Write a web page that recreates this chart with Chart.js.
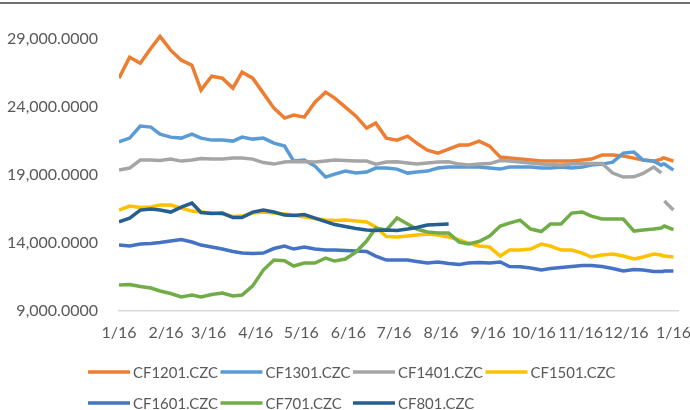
<!DOCTYPE html>
<html>
<head>
<meta charset="utf-8">
<script src="https://cdn.jsdelivr.net/npm/chart.js@4/dist/chart.umd.min.js"></script>
<style>
  html, body { margin: 0; padding: 0; background: #fff; }
  #wrap { width: 690px; height: 410px; position: relative; }
</style>
</head>
<body>
<div id="wrap"><canvas id="chart" width="690" height="410"></canvas></div>
<script>
// days counted from 1/16
var days = [0, 7, 14, 21, 27, 34, 41, 48, 54, 61, 68, 75, 81, 88, 95, 102, 109, 115, 122, 129,
    136, 142, 149, 156, 163, 169, 176, 183, 190, 196, 203, 210, 217, 224, 230, 237, 244, 251, 257, 264,
    271, 278, 284, 291, 298, 305, 311, 318, 325, 332, 339, 345, 352, 357, 358, 359, 365];

var tickDays = [0, 31, 59, 90, 120, 151, 181, 212, 243, 273, 304, 334, 365];
var tickLabels = ['1/16', '2/16', '3/16', '4/16', '5/16', '6/16', '7/16', '8/16', '9/16', '10/16', '11/16', '12/16', '1/16'];
var yTicks = [9000, 14000, 19000, 24000, 29000];

var seriesNames = ['CF1201.CZC', 'CF1301.CZC', 'CF1401.CZC', 'CF1501.CZC', 'CF1601.CZC', 'CF701.CZC', 'CF801.CZC'];
var seriesColors = ['#ED7D31', '#5B9BD5', '#A5A5A5', '#FFC000', '#4472C4', '#70AD47', '#255E91'];

var cf1201 = [26132, 27677, 27236, 28338, 29200, 28191, 27456, 27088, 25250, 26279, 26132, 25397, 26574, 26132, 25030, 23926, 23191, 23412, 23265, 24368,
    25103, 24662, 24000, 23338, 22456, 22824, 21720, 21574, 21868, 21353, 20838, 20618, 20912, 21206, 21206, 21500, 21132, 20324, 20250, 20176,
    20103, 20029, 20029, 20029, 20029, 20103, 20176, 20470, 20470, 20397, 20250, 20103, 20029, 20176, 20250, 20250, 20029];
var cf1301 = [21449, 21721, 22603, 22530, 22015, 21794, 21721, 22015, 21721, 21574, 21574, 21500, 21794, 21647, 21721, 21353, 21132, 20029, 20103, 19662,
    18853, 19074, 19294, 19147, 19221, 19515, 19515, 19441, 19147, 19221, 19294, 19515, 19588, 19588, 19588, 19588, 19515, 19441, 19588, 19588,
    19588, 19515, 19515, 19588, 19515, 19588, 19735, 19809, 19956, 20618, 20691, 20103, 20029, 19735, 19809, 19809, 19368];
var cf1401 = [19368, 19515, 20103, 20103, 20066, 20176, 20029, 20103, 20213, 20176, 20176, 20250, 20250, 20176, 19919, 19809, 19956, 19993, 19978, 19956,
    20029, 20103, 20066, 20044, 20029, 19809, 19956, 19978, 19882, 19809, 19882, 19956, 19978, 19809, 19735, 19809, 19845, 20066, 20029, 19956,
    19882, 19809, 19772, 19735, 19809, 19860, 19860, 19860, 19147, 18853, 18875, 19125, 19588, 19169, null, 17088, 16426];
var cf1501 = [16426, 16721, 16610, 16647, 16794, 16794, 16574, 16353, 16279, 16206, 16132, 15949, 15985, 16206, 16279, 16206, 16132, 16059, 15912, 15801,
    15691, 15654, 15691, 15618, 15544, 15176, 14478, 14441, 14515, 14588, 14662, 14588, 14441, 14221, 14000, 13779, 13706, 13044, 13485, 13485,
    13559, 13926, 13779, 13485, 13485, 13265, 12971, 13118, 13191, 13044, 12824, 12971, 13191, 13118, 13044, 13044, 12971];
var cf1601 = [13853, 13779, 13926, 13963, 14037, 14147, 14257, 14074, 13853, 13706, 13559, 13375, 13265, 13228, 13265, 13596, 13779, 13559, 13706, 13559,
    13485, 13485, 13449, 13412, 13375, 13044, 12750, 12750, 12750, 12640, 12529, 12603, 12493, 12419, 12529, 12566, 12529, 12603, 12272, 12257,
    12162, 12015, 12125, 12199, 12272, 12346, 12346, 12272, 12125, 11941, 12051, 12015, 11904, 11904, 11904, 11941, 11941];
var cf701 = [10912, 10949, 10801, 10691, 10471, 10287, 10029, 10176, 10029, 10213, 10324, 10103, 10176, 10850, 12015, 12750, 12700, 12309, 12529, 12529,
    12897, 12676, 12824, 13338, 14147, 15103, 14956, 15838, 15397, 15029, 14809, 14735, 14735, 14074, 13926, 14110, 14515, 15250, 15471, 15691,
    15029, 14846, 15397, 15397, 16206, 16279, 15985, 15765, 15765, 15765, 14882, 14956, 15029, 15103, 15176, 15250, 14993];
var cf801 = [15566, 15838, 16426, 16500, 16426, 16279, 16647, 16941, 16243, 16169, 16206, 15875, 15875, 16279, 16426, 16279, 16059, 16022, 16096, 15838,
    15581, 15360, 15213, 15066, 14956, 14919, 14956, 14919, 15029, 15140, 15324, 15360, 15397, null, null, null, null, null, null, null,
    null, null, null, null, null, null, null, null, null, null, null, null, null, null, null, null, null];

var seriesValues = [cf1201, cf1301, cf1401, cf1501, cf1601, cf701, cf801];

var fontFamily = 'Lato, "Open Sans", sans-serif';
var textColor = '#595959';

function toPoints(values) {
    return values.map(function(v, i) { return { x: days[i], y: v }; });
}

function formatValue(v) {
    return v.toLocaleString('en-US', { minimumFractionDigits: 4, maximumFractionDigits: 4 });
}

// Excel style legend: fixed columns, two rows, plus the frame line at the top
var frameAndLegend = {
    id: 'frameAndLegend',
    afterDraw: function(chart) {
        var ctx = chart.ctx;
        ctx.save();
        ctx.strokeStyle = '#707070';
        ctx.lineWidth = 2;
        ctx.beginPath();
        ctx.moveTo(0, 3);
        ctx.lineTo(chart.width, 3);
        ctx.stroke();

        ctx.font = '16px ' + fontFamily;
        ctx.textBaseline = 'middle';
        ctx.textAlign = 'left';
        // Calibri is narrower than Lato, squeeze the labels a bit
        var squeeze = 85 / ctx.measureText(seriesNames[0]).width;
        chart.data.datasets.forEach(function(ds, i) {
            var x = 88 + (i % 4) * 132.5;
            var y = 372 + Math.floor(i / 4) * 31;
            ctx.strokeStyle = ds.borderColor;
            ctx.lineWidth = 3.5;
            ctx.beginPath();
            ctx.moveTo(x, y);
            ctx.lineTo(x + 42, y);
            ctx.stroke();
            ctx.fillStyle = textColor;
            ctx.fillText(ds.label, x + 45, y + 1, ctx.measureText(ds.label).width * squeeze);
        });
        ctx.restore();
    }
};

var datasets = seriesNames.map(function(name, i) {
    return {
        label: name,
        data: toPoints(seriesValues[i]),
        borderColor: seriesColors[i],
        backgroundColor: seriesColors[i],
        borderWidth: 3.5,
        pointRadius: 0,
        tension: 0,
        spanGaps: false,
        order: seriesNames.length - i
    };
});

new Chart(document.getElementById('chart').getContext('2d'), {
    type: 'line',
    data: { datasets: datasets },
    plugins: [frameAndLegend],
    options: {
        responsive: false,
        animation: false,
        layout: { padding: { top: 12, right: 12, left: 0, bottom: 69 } },
        plugins: {
            legend: { display: false },
            tooltip: { enabled: false }
        },
        scales: {
            x: {
                type: 'linear',
                min: 0,
                max: 368,
                grid: { display: false, drawTicks: false },
                border: { display: true, color: '#d9d9d9', width: 1.5 },
                afterBuildTicks: function(scale) {
                    scale.ticks = tickDays.map(function(d) { return { value: d }; });
                },
                afterFit: function(scale) {
                    scale.height = 30;
                    scale.paddingLeft = 0;
                    scale.paddingRight = 0;
                },
                ticks: {
                    autoSkip: false,
                    maxRotation: 0,
                    padding: 12,
                    color: textColor,
                    font: { family: fontFamily, size: 16 },
                    callback: function(value, index) { return tickLabels[index]; }
                }
            },
            y: {
                min: 9000,
                max: 31000,
                grid: { display: false, drawTicks: false },
                border: { display: false },
                afterBuildTicks: function(scale) {
                    scale.ticks = yTicks.map(function(v) { return { value: v }; });
                },
                afterFit: function(scale) {
                    scale.width = 119;
                    scale.paddingTop = 0;
                    scale.paddingBottom = 0;
                },
                ticks: {
                    padding: 21,
                    color: textColor,
                    font: { family: fontFamily, size: 16 },
                    callback: function(value) { return formatValue(value); }
                }
            }
        }
    }
});
</script>
</body>
</html>
